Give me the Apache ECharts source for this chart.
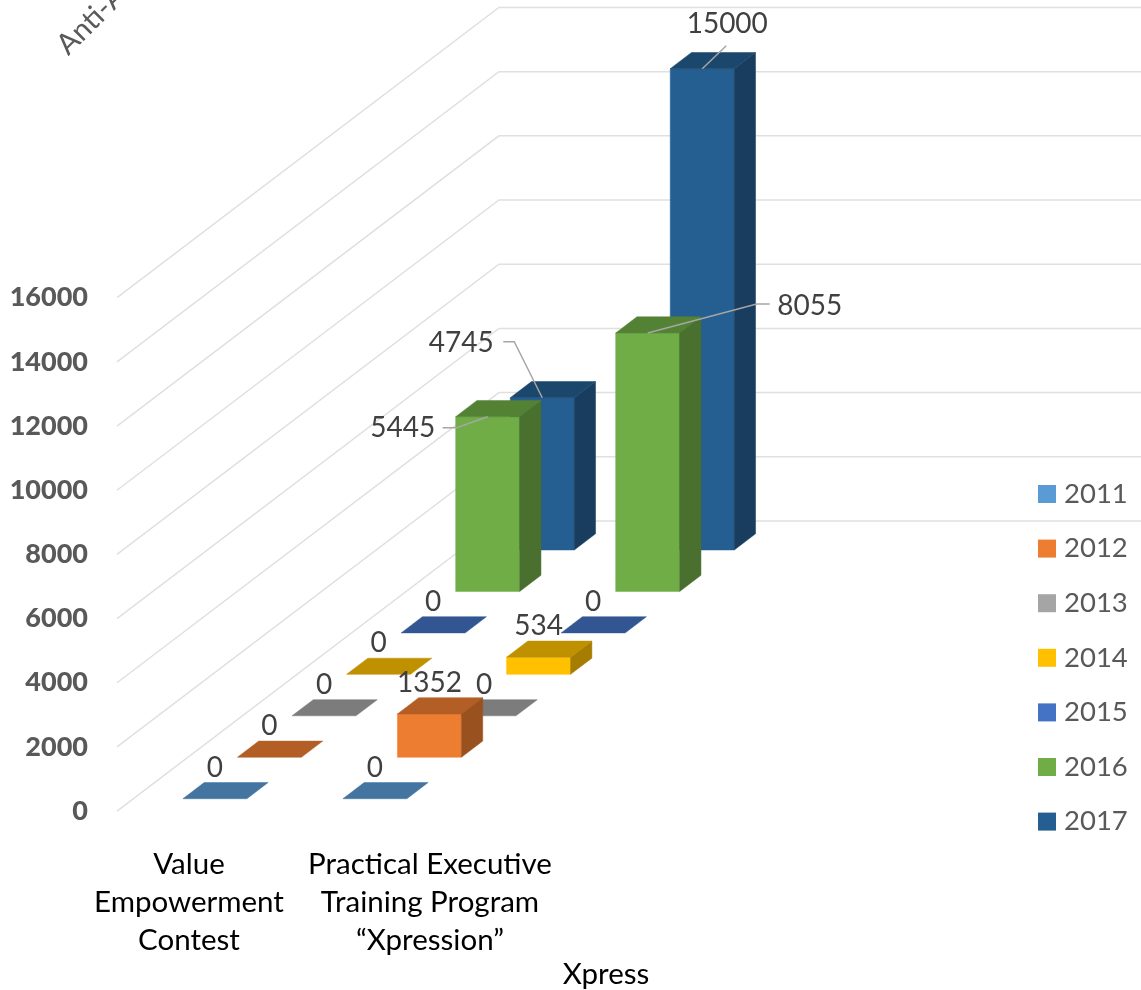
<!DOCTYPE html>
<html>
<head>
<meta charset="utf-8">
<style>html,body{margin:0;padding:0;background:#fff;overflow:hidden}#c{width:1141px;height:990px}</style>
<script src="https://cdn.jsdelivr.net/npm/echarts@6/dist/echarts.min.js"></script>
</head>
<body>
<div id="c"></div>
<script>
// ---- data ----
const years = ['2011','2012','2013','2014','2015','2016','2017'];
const categories = ['Value\nEmpowerment\nContest', 'Practical Executive\nTraining Program\n\u201CXpression\u201D', 'Xpress'];
const values2011 = [0, 0];
const values2012 = [0, 1352];
const values2013 = [0, 0];
const values2014 = [0, 534];
const values2015 = [0, 0];
const values2016 = [5445, 8055];
const values2017 = [4745, 15000];
const yTicks = [0, 2000, 4000, 6000, 8000, 10000, 12000, 14000, 16000];

// ---- styling / projection ----
const seriesValues = [values2011, values2012, values2013, values2014, values2015, values2016, values2017];
const colors = ['#5B9BD5','#ED7D31','#A5A5A5','#FFC000','#4472C4','#70AD47','#255E91'];
const FONT = 'Lato';
const DEPTH_X = 0.341;   // category units per series step of depth
const DEPTH_Y = 1292;    // value units per series step of depth
const BAR_LEFT = 0.31, BAR_W = 0.4, DEPTH_FRONT = 0.2985, DEPTH_SIZE = 0.39, N_DEPTH = 7;
const X_MAX = 6.4;
const labelLayouts = {
  '0|5': {dx:-85, dy:11,  leader:[[0,0],[-31,11],[-45,11]]},
  '0|6': {dx:-81, dy:-55, leader:[[0,0],[-28,-56],[-39,-56]]},
  '1|5': {dx:162, dy:-27, leader:[[0,0],[109,-29],[122,-29]]},
  '1|6': {dx:25,  dy:-45, leader:[[0,0],[24,-23]]}
};
function shade(hex, k){
  const n = parseInt(hex.slice(1),16);
  const f = v => Math.round(v*k);
  return 'rgb(' + f(n>>16&255) + ',' + f(n>>8&255) + ',' + f(n&255) + ')';
}
function barRender(s){
  return function(params, api){
    const c = api.value(0), v = api.value(1);
    const P = (x, d, val) => api.coord([c + BAR_LEFT + x*BAR_W + (s + DEPTH_FRONT + d*DEPTH_SIZE)*DEPTH_X,
                                        val + (s + DEPTH_FRONT + d*DEPTH_SIZE)*DEPTH_Y]);
    const poly = (pts, fill) => ({type:'polygon', shape:{points:pts}, style:{fill:fill, stroke:fill, lineWidth:0.5}});
    const kids = [];
    if (v > 0) {
      kids.push(poly([P(0,0,0),P(1,0,0),P(1,0,v),P(0,0,v)], colors[s]));
      kids.push(poly([P(1,0,0),P(1,1,0),P(1,1,v),P(1,0,v)], shade(colors[s],0.65)));
    }
    kids.push(poly([P(0,0,v),P(1,0,v),P(1,1,v),P(0,1,v)], shade(colors[s],0.75)));
    const a = P(0.5,0,v);
    const lay = labelLayouts[c+'|'+s] || {dx:0, dy:-31};
    if (lay.leader) {
      kids.push({type:'polyline', shape:{points:lay.leader.map(p=>[a[0]+p[0],a[1]+p[1]])},
                 style:{stroke:'#A6A6A6', lineWidth:1.5, fill:null}});
    }
    kids.push({type:'text', x:a[0]+lay.dx, y:a[1]+lay.dy,
      style:{text:String(v), fill:'#404040', font:'28px '+FONT, align:'center', verticalAlign:'middle'}});
    return {type:'group', children:kids};
  };
}
function wallRender(params, api){
  const v = api.value(0);
  const a = api.coord([0, v]);
  const b = api.coord([N_DEPTH*DEPTH_X, v + N_DEPTH*DEPTH_Y]);
  const e = api.coord([X_MAX, v + N_DEPTH*DEPTH_Y]);
  return {type:'polyline', shape:{points:[a,b,e]}, style:{stroke:'#E0E0E0', lineWidth:1.5, fill:null}};
}

const series = [{
  name:'walls', type:'custom', renderItem:wallRender, silent:true, clip:false, z:1,
  data:yTicks.map(v=>[v]), encode:{y:0}
}];
years.forEach((y,s)=>{
  series.push({
    name:y, type:'custom', renderItem:barRender(s), clip:false, z:20-s,
    itemStyle:{color:colors[s]},
    data:seriesValues[s].map((v,c)=>[c,v]), encode:{x:0,y:1}
  });
});

const chart = echarts.init(document.getElementById('c'), null, {renderer:'canvas'});
chart.setOption({
  animation:false,
  color:colors,
  grid:{left:117, right:0, top:297.7, bottom:178.9, containLabel:false, outerBoundsMode:'none'},
  legend:{
    data:years, orient:'vertical', left:1038, top:480, padding:0, itemWidth:18, itemHeight:18, itemGap:26.6, icon:'rect',
    textStyle:{color:'#595959', fontFamily:FONT, fontSize:27.5, padding:[0,0,0,3]}, selectedMode:false
  },
  xAxis:[{
    type:'value', min:0, max:X_MAX, position:'bottom',
    axisLine:{show:false}, axisTick:{show:false}, splitLine:{show:false},
    axisLabel:{customValues:[0.45,1.956], margin:34, color:'#000', fontFamily:FONT, fontSize:29.5, lineHeight:38, align:'center',
      formatter:(v)=> v<1 ? categories[0] : categories[1], hideOverlap:false, showMinLabel:true, showMaxLabel:true}
  },{
    type:'value', min:0, max:X_MAX, position:'bottom', offset:144,
    axisLine:{show:false}, axisTick:{show:false}, splitLine:{show:false},
    axisLabel:{customValues:[3.056], margin:0, color:'#000', fontFamily:FONT, fontSize:29.5, lineHeight:38, align:'center',
      formatter:()=>categories[2]}
  }],
  yAxis:{
    type:'value', min:0, max:16000, interval:2000,
    axisLine:{show:false}, axisTick:{show:false}, splitLine:{show:false},
    axisLabel:{margin:29, color:'#595959', fontFamily:FONT, fontWeight:900, fontSize:27, formatter:(v)=>String(v)}
  },
  graphic:[{
    type:'text', x:72, y:60, rotation:Math.PI/4, z:30,
    style:{text:'Anti-A', fill:'#595959', font:'29px '+FONT, align:'left', verticalAlign:'bottom'}
  }],
  series:series
});
</script>
</body>
</html>
